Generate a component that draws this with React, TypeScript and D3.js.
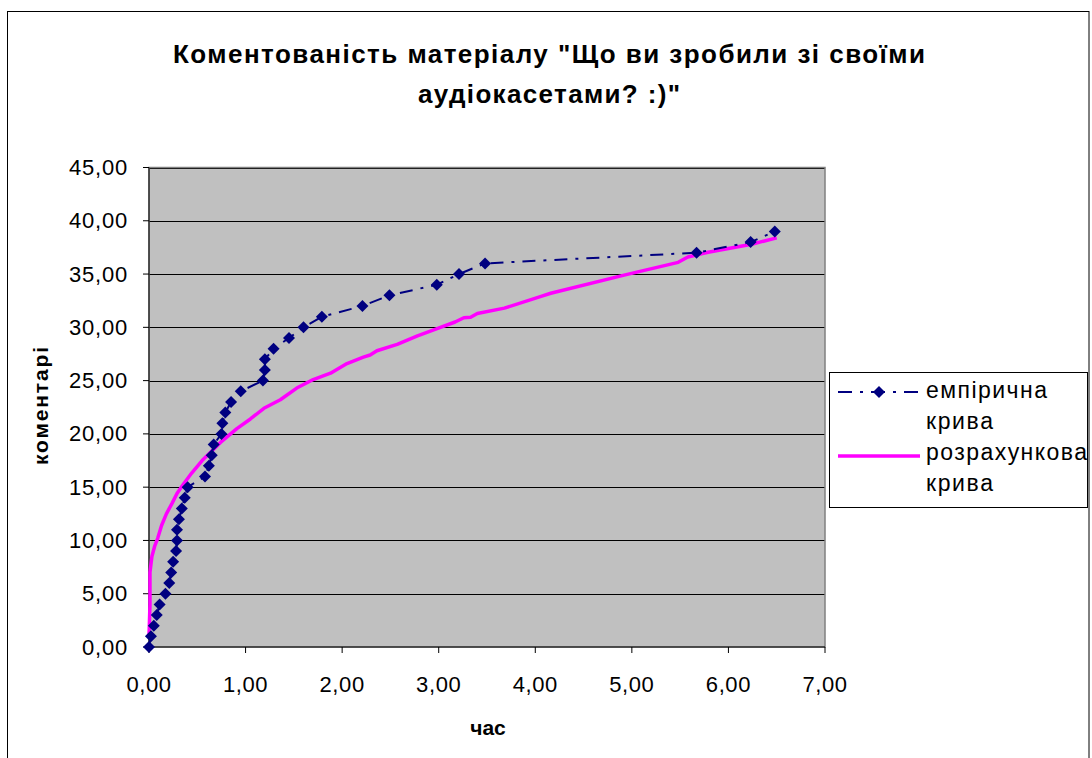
import React from "react";
import * as d3 from "d3";

const empHours = [0.0, 0.02, 0.05, 0.08, 0.11, 0.17, 0.21, 0.23, 0.25, 0.28, 0.29, 0.29, 0.31, 0.34, 0.37, 0.4,
  0.58, 0.62, 0.65, 0.67, 0.75, 0.76, 0.79, 0.85, 0.95, 1.18, 1.2, 1.2, 1.29, 1.45, 1.6, 1.79,
  2.21, 2.49, 2.98, 3.21, 3.48, 5.67, 6.23, 6.48];
const empComments = [0, 1, 2, 3, 4, 5, 6, 7, 8, 9, 10, 11, 12, 13, 14, 15, 16, 17, 18, 19, 20, 21, 22, 23,
  24, 25, 26, 27, 28, 29, 30, 31, 32, 33, 34, 35, 36, 37, 38, 39];

const calcHours = [0.0, 0.01, 0.01, 0.03, 0.06, 0.09, 0.13, 0.18, 0.24, 0.29, 0.35, 0.44, 0.55, 0.74, 0.91,
  1.05, 1.19, 1.36, 1.53, 1.7, 1.88, 2.05, 2.22, 2.29, 2.36, 2.57, 2.78, 2.99, 3.17, 3.26, 3.33, 3.4,
  3.68, 4.06, 4.16, 4.92, 5.48, 5.58, 5.79, 6.24, 6.5];
const calcComments = [1.0, 4.0, 7.0, 8.5, 9.5, 10.2, 11.4, 12.5, 13.5, 14.4, 15.2, 16.3, 17.5, 19.2, 20.5,
  21.4, 22.4, 23.2, 24.3, 25.1, 25.7, 26.6, 27.2, 27.4, 27.8, 28.4, 29.2, 29.9, 30.5, 30.9, 30.95, 31.3,
  31.8, 32.9, 33.2, 34.9, 36.1, 36.6, 37.05, 37.8, 38.4];

const xTicks = [0, 1, 2, 3, 4, 5, 6, 7];
const yTicks = [0, 5, 10, 15, 20, 25, 30, 35, 40, 45];

const titleLines = ["Коментованість матеріалу \"Що ви зробили зі своїми", "аудіокасетами? :)\""];
const xTitle = "час";
const yTitle = "коментарі";
const legendEmp = ["емпірична", "крива"];
const legendCalc = ["розрахункова", "крива"];

const FONT = "'Liberation Sans', Arial, sans-serif";
const fmt = (v: number) => v.toFixed(2).replace(".", ",");

export default function App() {
  const L = 149, R = 825, T = 167.5, B = 647;
  const x = d3.scaleLinear().domain([0, 7]).range([L, R]);
  const y = d3.scaleLinear().domain([0, 45]).range([B, T]);

  const emp = empHours.map((h, i) => [h, empComments[i]] as [number, number]);
  const calc = calcHours.map((h, i) => [h, calcComments[i]] as [number, number]);
  const line = d3.line<[number, number]>().x(d => x(d[0])).y(d => y(d[1]));

  const diamond = (cx: number, cy: number, r = 6) =>
    `M${cx},${cy - r}L${cx + r},${cy}L${cx},${cy + r}L${cx - r},${cy}Z`;

  return (
    <svg width={1092} height={758} style={{ position: "absolute", left: 0, top: 0, background: "#fff" }}
      fontFamily={FONT}>
      <rect x={7.5} y={11.5} width={1081.5} height={800} fill="#fff" stroke="#000" strokeWidth={1} />
      <text x={549} y={63} fontSize={26} fontWeight="bold" textAnchor="middle" textLength={752}
        lengthAdjust="spacing">{titleLines[0]}</text>
      <text x={549} y={103} fontSize={26} fontWeight="bold" textAnchor="middle" textLength={262}
        lengthAdjust="spacing">{titleLines[1]}</text>

      <rect x={L} y={T} width={R - L} height={B - T} fill="#C0C0C0" />
      {yTicks.filter(t => t > 0).map(t => (
        <line key={"g" + t} x1={L} x2={R} y1={Math.round(y(t)) + 0.5} y2={Math.round(y(t)) + 0.5}
          stroke="#000" strokeWidth={1} />
      ))}
      <rect x={L} y={T} width={R - L} height={B - T} fill="none" stroke="#808080" strokeWidth={1.5} />
      <line x1={L} x2={L} y1={T} y2={B} stroke="#000" strokeWidth={1} />
      <line x1={L} x2={R} y1={B} y2={B} stroke="#000" strokeWidth={1} />

      {yTicks.map(t => (
        <g key={"y" + t}>
          <line x1={L - 6} x2={L} y1={y(t)} y2={y(t)} stroke="#000" />
          <text x={128} y={y(t) + 7.5} fontSize={22} textAnchor="end" letterSpacing={0.8}>{fmt(t)}</text>
        </g>
      ))}
      {xTicks.map(t => (
        <g key={"x" + t}>
          <line x1={x(t)} x2={x(t)} y1={B} y2={B + 6} stroke="#000" />
          <text x={x(t)} y={692} fontSize={22} textAnchor="middle" letterSpacing={0.6}>{fmt(t)}</text>
        </g>
      ))}

      <text x={488} y={735} fontSize={21} fontWeight="bold" textAnchor="middle">{xTitle}</text>
      <text transform="translate(48,406) rotate(-90)" fontSize={21} fontWeight="bold" textAnchor="middle"
        textLength={118} lengthAdjust="spacing">{yTitle}</text>

      <path d={line(calc) || ""} fill="none" stroke="#FF00FF" strokeWidth={3.5} strokeLinejoin="round" />
      <path d={line(emp) || ""} fill="none" stroke="#000080" strokeWidth={2} strokeDasharray="13,8,3,8" />
      {emp.map((d, i) => (
        <path key={"d" + i} d={diamond(x(d[0]), y(d[1]))} fill="#000080" />
      ))}

      <rect x={829.5} y={372.5} width={258} height={135} fill="#fff" stroke="#000" strokeWidth={1} />
      <line x1={838} x2={920} y1={392} y2={392} stroke="#000080" strokeWidth={2} strokeDasharray="14,8,3,8" />
      <path d={diamond(879, 392, 6)} fill="#000080" />
      <text x={926} y={398} fontSize={23} textLength={121} lengthAdjust="spacing">{legendEmp[0]}</text>
      <text x={926} y={429} fontSize={23} textLength={67} lengthAdjust="spacing">{legendEmp[1]}</text>
      <line x1={838} x2={920} y1={456} y2={456} stroke="#FF00FF" strokeWidth={3.5} />
      <text x={926} y={460} fontSize={23} textLength={161} lengthAdjust="spacing">{legendCalc[0]}</text>
      <text x={926} y={491} fontSize={23} textLength={67} lengthAdjust="spacing">{legendCalc[1]}</text>
    </svg>
  );
}
